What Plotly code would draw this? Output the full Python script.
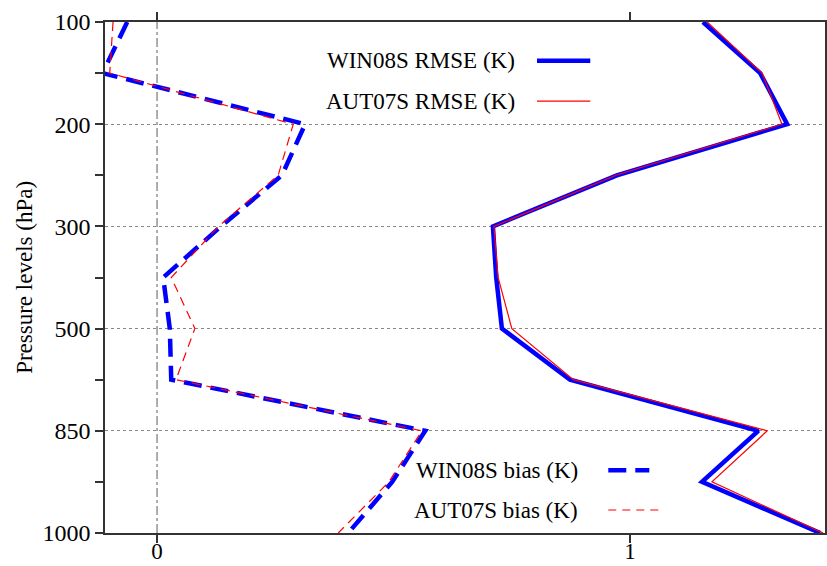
import plotly.graph_objects as go

levels = [100, 150, 200, 250, 300, 400, 500, 700, 850, 925, 1000]
tick_levels = [100, 200, 300, 500, 850, 1000]
win_rmse = [1.154, 1.275, 1.332, 0.972, 0.710, 0.717, 0.729, 0.873, 1.271, 1.152, 1.402]
aut_rmse = [1.163, 1.279, 1.321, 0.970, 0.712, 0.721, 0.750, 0.880, 1.290, 1.173, 1.408]
win_bias = [-0.063, -0.115, 0.313, 0.264, 0.135, 0.013, 0.027, 0.030, 0.567, 0.497, 0.404]
aut_bias = [-0.093, -0.100, 0.288, 0.256, 0.130, 0.030, 0.080, 0.040, 0.560, 0.490, 0.383]

idx = list(range(len(levels)))
major_idx = [levels.index(v) for v in tick_levels]
minor_idx = [i for i in idx if i not in major_idx]

FONT = "Liberation Serif"
BLUE = "#0000ff"
RED = "#ff0000"

fig = go.Figure()
fig.add_trace(go.Scatter(x=win_bias, y=idx, mode="lines",
                         line=dict(color=BLUE, width=4.5, dash="18px,9px"),
                         name="WIN08S bias (K)", showlegend=False))
fig.add_trace(go.Scatter(x=aut_bias, y=idx, mode="lines",
                         line=dict(color=RED, width=1.2, dash="9px,6px"),
                         name="AUT07S bias (K)", showlegend=False))
fig.add_trace(go.Scatter(x=win_rmse, y=idx, mode="lines",
                         line=dict(color=BLUE, width=4.5),
                         name="WIN08S RMSE (K)", showlegend=False))
fig.add_trace(go.Scatter(x=aut_rmse, y=idx, mode="lines",
                         line=dict(color=RED, width=1.2),
                         name="AUT07S RMSE (K)", showlegend=False))

# zero reference line
fig.add_shape(type="line", xref="x", yref="paper", x0=0, x1=0, y0=0, y1=1,
              line=dict(color="#777777", width=1.2, dash="dashdot"), layer="below")

# legend (text left, sample right)
legend_items = [
    ("WIN08S RMSE (K)", 0.572, 0.924, 0.600, 0.674, dict(color=BLUE, width=4.5)),
    ("AUT07S RMSE (K)", 0.572, 0.845, 0.600, 0.674, dict(color=RED, width=1.2)),
    ("WIN08S bias (K)", 0.660, 0.123, 0.699, 0.756, dict(color=BLUE, width=4.5, dash="18px,9px")),
    ("AUT07S bias (K)", 0.660, 0.045, 0.699, 0.774, dict(color=RED, width=1.2, dash="8px,6px")),
]
for text, tx, ty, lx0, lx1, ln in legend_items:
    fig.add_annotation(text=text, xref="paper", yref="paper", x=tx, y=ty,
                       xanchor="right", yanchor="middle", showarrow=False,
                       font=dict(family=FONT, size=23, color="black"))
    fig.add_shape(type="line", xref="paper", yref="paper", x0=lx0, x1=lx1,
                  y0=ty, y1=ty, line=ln)

# y-axis title
fig.add_annotation(text="Pressure levels (hPa)", xref="paper", yref="paper",
                   x=-0.112, y=0.5, xanchor="center", yanchor="middle",
                   textangle=-90, showarrow=False,
                   font=dict(family=FONT, size=23, color="black"))

fig.update_layout(
    width=827, height=566,
    margin=dict(l=105, r=2, t=22, b=33),
    paper_bgcolor="white", plot_bgcolor="white",
    font=dict(family=FONT, size=24, color="black"),
    showlegend=False,
)
fig.update_xaxes(
    range=[-0.11, 1.412], tickvals=[0, 1], ticktext=["0", "1"],
    showgrid=False, zeroline=False, automargin=False,
    showline=True, linecolor="#333333", linewidth=1.5, mirror="ticks",
    ticks="outside", ticklen=8, tickcolor="#333333", tickwidth=1.5,
    ticklabelstandoff=-11,
    tickfont=dict(family=FONT, size=23, color="black"),
)
fig.update_yaxes(
    range=[len(levels) - 1, 0], tickvals=major_idx,
    ticktext=[str(v) for v in tick_levels],
    showgrid=True, gridcolor="#888888", gridwidth=1, griddash="dot",
    zeroline=False, automargin=False,
    showline=True, linecolor="#333333", linewidth=1.5, mirror="ticks",
    ticks="outside", ticklen=8, tickcolor="#333333", tickwidth=1.5,
    minor=dict(tickvals=minor_idx, ticks="outside", ticklen=8,
               tickcolor="#333333", tickwidth=1.5, showgrid=False),
    tickfont=dict(family=FONT, size=24, color="black"),
)

fig.write_html("out.html", config={"displayModeBar": False},
               post_script="document.body.style.margin='0';")
